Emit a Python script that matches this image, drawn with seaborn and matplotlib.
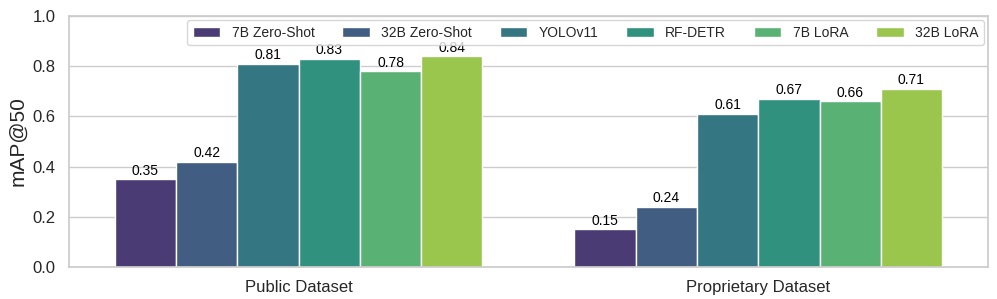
import matplotlib
matplotlib.use("Agg")
import matplotlib.pyplot as plt
import seaborn as sns
import pandas as pd

datasets = ["Public Dataset", "Proprietary Dataset"]
models = ["7B Zero-Shot", "32B Zero-Shot", "YOLOv11", "RF-DETR", "7B LoRA", "32B LoRA"]
public_vals = [0.35, 0.42, 0.81, 0.83, 0.78, 0.84]
proprietary_vals = [0.15, 0.24, 0.61, 0.67, 0.66, 0.71]

rows = []
for m, v in zip(models, public_vals):
    rows.append({"Dataset": datasets[0], "Model": m, "mAP@50": v})
for m, v in zip(models, proprietary_vals):
    rows.append({"Dataset": datasets[1], "Model": m, "mAP@50": v})
df = pd.DataFrame(rows)

sns.set_theme(style="whitegrid")
plt.rcParams['font.family'] = ['Liberation Sans', 'DejaVu Sans']

fig, ax = plt.subplots(figsize=(9.97, 2.99), dpi=100)
sns.barplot(data=df, x="Dataset", y="mAP@50", hue="Model", hue_order=models,
            order=datasets, palette="viridis", ax=ax)

for c in ax.containers:
    ax.bar_label(c, fmt="%.2f", fontsize=10, padding=1, color="black")

ax.set_ylim(0, 1.0)
ax.set_xlabel("")
ax.set_ylabel("mAP@50", fontsize=15)
ax.tick_params(axis='both', labelsize=12)
ax.legend(loc="upper right", ncol=6, fontsize=10, frameon=True,
          borderaxespad=0.3)

fig.subplots_adjust(left=0.069, right=0.991, top=0.947, bottom=0.107)
fig.savefig("out.png", dpi=100)
